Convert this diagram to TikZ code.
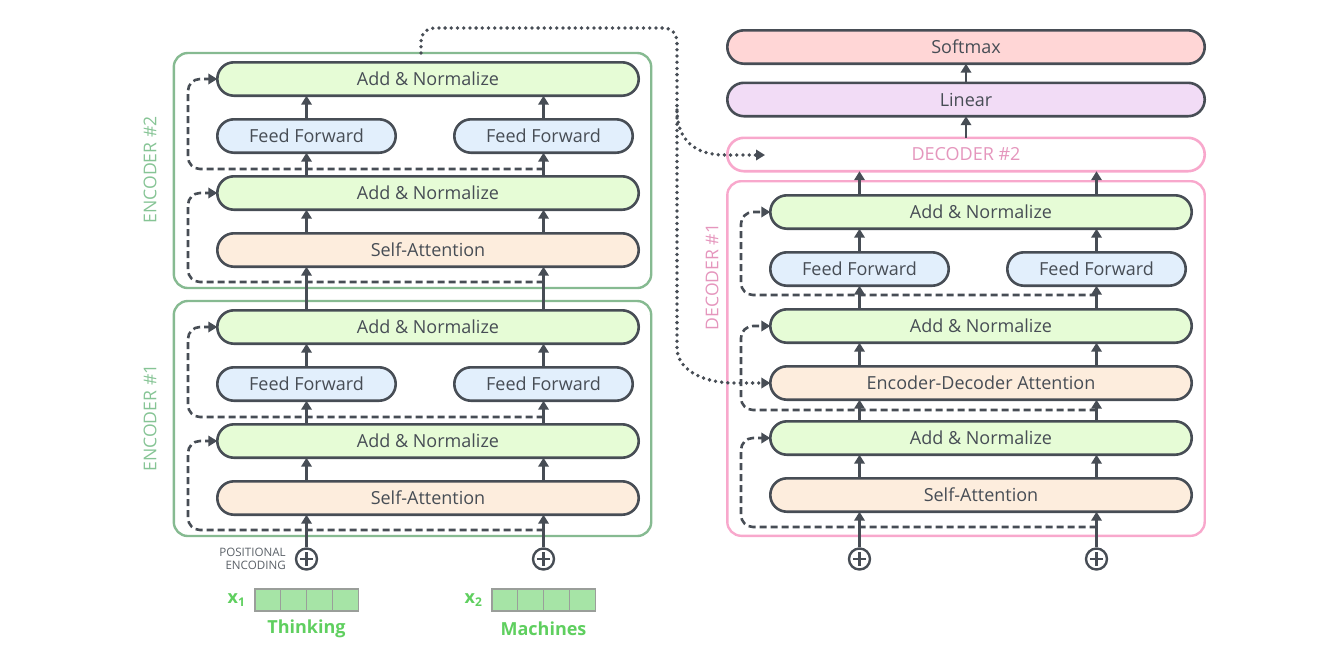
\documentclass[tikz,border=0pt]{standalone}
\usepackage{fontspec}
\setmainfont{Open Sans}
\usetikzlibrary{arrows.meta,positioning,calc}
\definecolor{cink}{HTML}{474D55}
\definecolor{cgray}{HTML}{5B6168}
\definecolor{cencg}{HTML}{86BA91}
\definecolor{cencl}{HTML}{86C495}
\definecolor{cdecp}{HTML}{F8A8CC}
\definecolor{cdecl}{HTML}{E596BD}
\definecolor{cnorm}{HTML}{E6FCD6}
\definecolor{cff}{HTML}{E2EFFC}
\definecolor{catt}{HTML}{FDEDDD}
\definecolor{csoft}{HTML}{FFD6D6}
\definecolor{clin}{HTML}{F2DCF6}
\definecolor{cemb}{HTML}{A6E4A6}
\definecolor{cgrid}{HTML}{9A9E9A}
\definecolor{cword}{HTML}{5FCF5F}

\begin{document}
\begin{tikzpicture}[
  x=0.5pt, y=-0.5pt,
  font=\fontsize{9}{11}\selectfont, text=cink,
  layer/.style={draw=cink, line width=1.3pt, rounded corners=8.3pt, minimum height=16.7pt,
                inner sep=0pt, outer sep=0pt},
  wide/.style={layer, minimum width=210.7pt},
  half/.style={layer, minimum width=89.2pt},
  norm/.style={wide, fill=cnorm},
  attn/.style={wide, fill=catt},
  ffn/.style={half, fill=cff},
  outbox/.style={layer, minimum width=238.7pt},
  stack/.style={draw, line width=1.2pt, rounded corners=7pt, minimum width=238.7pt,
                inner sep=0pt, outer sep=0pt},
  stacklab/.style={rotate=90, font=\fontsize{8.8}{10}\selectfont},
  arr/.style={-{Triangle[length=4.5pt,width=5.2pt]}, line width=1.3pt, draw=cink},
  resid/.style={arr, dash pattern=on 3.5pt off 2pt, rounded corners=6pt},
  memflow/.style={arr, line width=1.9pt, line cap=round, dash pattern=on 0pt off 3.1pt},
  addpos/.style={circle, draw=cink, line width=1.2pt, minimum size=10.5pt, inner sep=0pt,
                 path picture={\draw[cink, line width=1.2pt]
                   (path picture bounding box.center) +(-3.3pt,0) -- +(3.3pt,0)
                   (path picture bounding box.center) +(0,-3.3pt) -- +(0,3.3pt);}},
  cell/.style={draw=cgrid, fill=cemb, line width=0.6pt, minimum width=12.9pt,
               minimum height=11pt, inner sep=0pt, outer sep=0pt},
  word/.style={text=cword, font=\fontsize{9}{11}\selectfont\bfseries},
]
\useasboundingbox (0,0) rectangle (1332,666);
% ---------- encoders (#1 below, #2 above) ----------
\foreach \n/\dy in {1/248, 2/0}{
  \node[stack, draw=cencg, minimum height=117.5pt] (enc\n) at (412.5,{\dy+170.5}) {};
  \node[stacklab, text=cencl] at (150,{\dy+170}) {ENCODER \#\n};
  \node[norm] (e\n-an2) at (428,{\dy+79}) {Add \& Normalize};
  \node[ffn] (e\n-ffL) at (306.5,{\dy+136}) {Feed Forward};
  \node[ffn] (e\n-ffR) at (543.5,{\dy+136}) {Feed Forward};
  \node[norm] (e\n-an1) at (428,{\dy+193}) {Add \& Normalize};
  \node[attn] (e\n-sa) at (428,{\dy+250}) {Self-Attention};
  \foreach \s in {L,R}{
    \draw[arr] (e\n-ff\s |- e\n-sa.north) -- (e\n-ff\s |- e\n-an1.south);
    \draw[arr] (e\n-ff\s |- e\n-an1.north) -- (e\n-ff\s.south);
    \draw[arr] (e\n-ff\s.north) -- (e\n-ff\s |- e\n-an2.south);
  }
  % residual taps
  \coordinate (e\n-t1) at (543.5,{\dy+282});
  \coordinate (e\n-t2) at (543.5,{\dy+169});
  \draw[resid] (e\n-t1) -| (188,{\dy+193}) -- (e\n-an1.west);
  \draw[resid] (e\n-t2) -| (188,{\dy+79}) -- (e\n-an2.west);
}
\foreach \s in {L,R}
  \draw[arr] (e1-ff\s |- e1-an2.north) -- (e1-ff\s |- e2-sa.south);
% ---------- inputs ----------
\node[addpos] (epL) at (306.5,559) {};
\node[addpos] (epR) at (543.5,559) {};
\foreach \s in {L,R}
  \draw[arr] (ep\s.north) -- (ep\s |- e1-sa.south);
\node[left=1pt of epL, align=right, text=cgray, font=\fontsize{5.8}{6.6}\selectfont]
  {POSITIONAL\\ENCODING};
\foreach \n/\xs in {1/255, 2/492}{
  \node[cell, anchor=west] (w\n-1) at (\xs,600) {};
  \foreach \i [count=\j from 2] in {1,2,3}
    \node[cell, right=0pt of w\n-\i] (w\n-\j) {};
  \node[word, left=1pt of w\n-1] {x\textsubscript{\n}};
}
\node[word] (tok1) at (306.5,629) {Thinking};
\node[word] (tok2) at (543.5,629) {Machines};
% ---------- decoder side ----------
\node[outbox, fill=csoft] (soft) at (966,47) {Softmax};
\node[outbox, fill=clin] (lin) at (966,99.5) {Linear};
\node[outbox, draw=cdecp, fill=white, text=cdecl] (dec2) at (966,154.5) {DECODER \#2};
\node[stack, draw=cdecp, minimum height=177.3pt] (dec1) at (966,358.5) {};
\node[stacklab, text=cdecl] at (712,277) {DECODER \#1};
\node[norm] (dan3) at (981,212) {Add \& Normalize};
\node[ffn] (dffL) at (859.5,269) {Feed Forward};
\node[ffn] (dffR) at (1096.5,269) {Feed Forward};
\node[norm] (dan2) at (981,326) {Add \& Normalize};
\node[attn] (eda) at (981,383) {Encoder-Decoder Attention};
\node[norm] (dan1) at (981,438) {Add \& Normalize};
\node[attn] (dsa) at (981,495) {Self-Attention};
\node[addpos] (dpL) at (859.5,559) {};
\node[addpos] (dpR) at (1096.5,559) {};
\foreach \s in {L,R}{
  \draw[arr] (dp\s.north) -- (dp\s |- dsa.south);
  \draw[arr] (dff\s |- dsa.north) -- (dff\s |- dan1.south);
  \draw[arr] (dff\s |- dan1.north) -- (dff\s |- eda.south);
  \draw[arr] (dff\s |- eda.north) -- (dff\s |- dan2.south);
  \draw[arr] (dff\s |- dan2.north) -- (dff\s.south);
  \draw[arr] (dff\s.north) -- (dff\s |- dan3.south);
  \draw[arr] (dff\s |- dan3.north) -- (dff\s |- dec2.south);
}
\draw[arr] (dec2.north) -- (lin.south);
\draw[arr] (lin.north) -- (soft.south);
\coordinate (d-t1) at (1096.5,527);
\coordinate (d-t2) at (1096.5,410);
\coordinate (d-t3) at (1096.5,295);
\draw[resid] (d-t1) -| (741,438) -- (dan1.west);
\draw[resid] (d-t2) -| (741,326) -- (dan2.west);
\draw[resid] (d-t3) -| (741,212) -- (dan3.west);
% encoder output to both decoders
\coordinate (d2in) at (765,155);
\draw[memflow] ($(enc2.north)+(8.5,0)$) [rounded corners=6.5pt] |- (677,28) -- (677,335)
  [sharp corners] .. controls (677,368) and (700,383) .. (735,383) -- (eda.west);
\draw[memflow] (677,110) .. controls (677,140) and (695,155) .. (725,155) -- (d2in);
\end{tikzpicture}
\end{document}
